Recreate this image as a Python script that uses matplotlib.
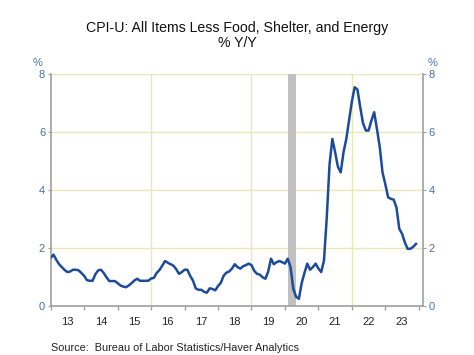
import matplotlib.pyplot as plt
import numpy as np

# monthly % Y/Y, Jan 2013 .. Dec 2023
start_year = 2013
cpi_yoy = [
    1.67, 1.78, 1.60, 1.45, 1.35, 1.25, 1.18, 1.20, 1.26, 1.26, 1.24, 1.15,  # 2013
    1.05, 0.90, 0.88, 0.88, 1.10, 1.24, 1.26, 1.15, 1.00, 0.87, 0.87, 0.87,  # 2014
    0.80, 0.72, 0.68, 0.66, 0.72, 0.80, 0.89, 0.95, 0.88, 0.88, 0.88, 0.88,  # 2015
    0.96, 0.98, 1.15, 1.25, 1.40, 1.56, 1.50, 1.45, 1.40, 1.28, 1.12, 1.18,  # 2016
    1.26, 1.26, 1.05, 0.89, 0.62, 0.57, 0.57, 0.50, 0.47, 0.62, 0.60, 0.55,  # 2017
    0.70, 0.81, 1.05, 1.16, 1.20, 1.30, 1.45, 1.35, 1.30, 1.38, 1.42, 1.47,  # 2018
    1.42, 1.22, 1.12, 1.09, 1.00, 0.95, 1.20, 1.64, 1.45, 1.52, 1.56, 1.52,  # 2019
    1.47, 1.64, 1.35, 0.60, 0.33, 0.26, 0.80, 1.15, 1.47, 1.26, 1.35, 1.47,  # 2020
    1.30, 1.18, 1.58, 3.07, 4.90, 5.76, 5.30, 4.80, 4.61, 5.30, 5.76, 6.40,  # 2021
    7.05, 7.54, 7.46, 6.85, 6.30, 6.05, 6.05, 6.39, 6.68, 6.10, 5.48, 4.60,  # 2022
    4.20, 3.75, 3.70, 3.67, 3.40, 2.67, 2.50, 2.20, 1.98, 1.98, 2.05, 2.15,  # 2023
]
year_labels = ['13', '14', '15', '16', '17', '18', '19', '20', '21', '22', '23']
recession = (2020 + 1 / 12, 2020 + 4 / 12)

title = 'CPI-U: All Items Less Food, Shelter, and Energy\n% Y/Y'
source = 'Source:  Bureau of Labor Statistics/Haver Analytics'

plt.rcParams['font.family'] = ['Liberation Sans', 'DejaVu Sans']

line_col = '#1c4b9c'
lab_col = '#4a70a8'
grid_col = '#e8e8b8'
spine_col = '#a0a0a0'

x = start_year + np.arange(len(cpi_yoy)) / 12

fig = plt.figure(figsize=(4.74, 3.55), dpi=100)
ax = fig.add_axes([0.107, 0.137, 0.785, 0.655])

ax.axvspan(*recession, color='#c0c0c0', lw=0, zorder=1)
ax.plot(x, cpi_yoy, color=line_col, lw=1.8, zorder=3)

ax.set_xlim(2013, 2024.12)
ax.set_ylim(0, 8)

# grid
for g in [2, 4, 6, 8]:
    ax.axhline(g, color=grid_col, lw=1, zorder=0)
for g in [2016, 2019, 2022]:
    ax.axvline(g, color=grid_col, lw=1, zorder=0)

ax.spines['top'].set_visible(False)
for s in ['left', 'right', 'bottom']:
    ax.spines[s].set_color(spine_col)
    ax.spines[s].set_linewidth(1.2)

years = np.arange(2013, 2025)
ax.set_xticks(years)
ax.set_xticklabels([''] * len(years))
ax.set_xticks(years[:-1] + 0.5, minor=True)
ax.set_xticklabels(year_labels, minor=True)
ax.tick_params(axis='x', which='major', length=3, color=spine_col, width=1)
ax.tick_params(axis='x', which='minor', length=0, labelsize=8, pad=8,
               labelcolor='#222222')

ax.set_yticks([0, 2, 4, 6, 8])
ax.set_yticklabels(['0', '2', '4', '6', '8'])
ax.tick_params(axis='y', which='both', left=True, right=True, labelleft=True,
               labelright=True, length=2, color=spine_col, labelsize=8,
               labelcolor=lab_col, pad=2)

# % markers above the top labels
ax.text(-0.022, 1.025, '%', transform=ax.transAxes, ha='right', va='bottom',
        fontsize=8, color=lab_col)
ax.text(1.012, 1.025, '%', transform=ax.transAxes, ha='left', va='bottom',
        fontsize=8, color=lab_col)

fig.text(0.5, 0.94, title, ha='center', va='top', fontsize=10.2,
         color='#111111', linespacing=1.05)
fig.text(0.108, 0.005, source, ha='left', va='bottom', fontsize=7.8,
         color='#222222')

fig.savefig('out.png', dpi=100)
